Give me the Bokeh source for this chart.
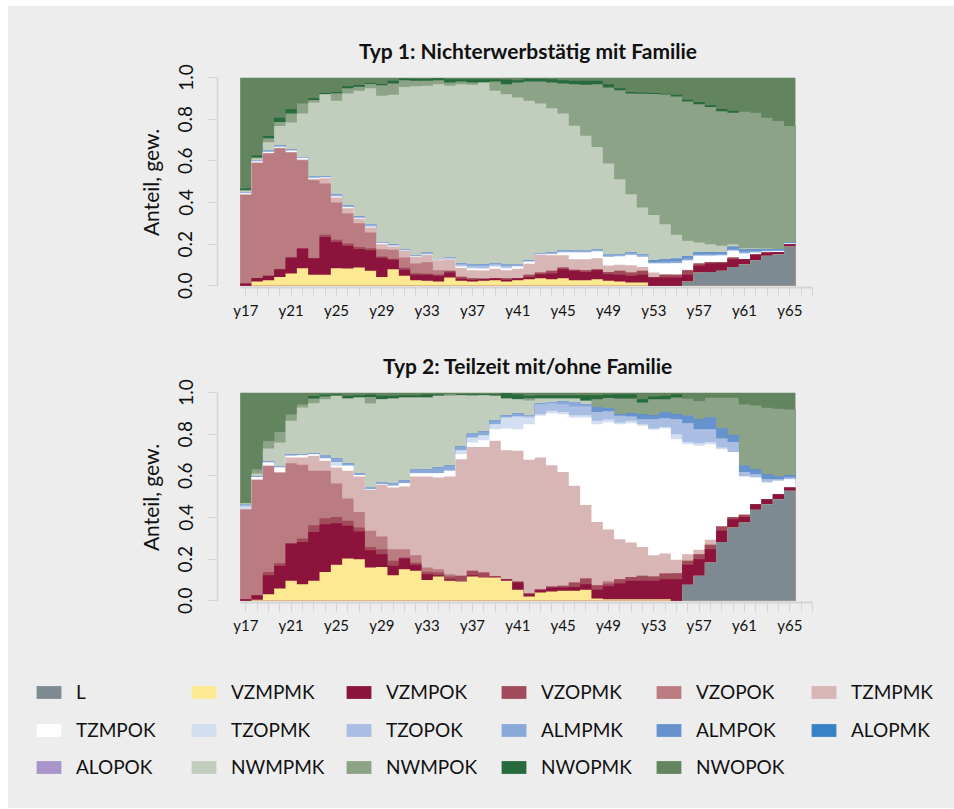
import numpy as np
from bokeh.plotting import figure
from bokeh.layouts import column
from bokeh.models import Range1d, FixedTicker, Legend, LegendItem, PrintfTickFormatter
from bokeh.embed import file_html
from bokeh.resources import INLINE

# ---------------- data ----------------
ages = list(range(17, 66))
states = ["L", "VZMPMK", "VZMPOK", "VZOPMK", "VZOPOK", "TZMPMK", "TZMPOK", "TZOPMK", "TZOPOK",
          "ALMPMK", "ALMPOK", "ALOPMK", "ALOPOK", "NWMPMK", "NWMPOK", "NWOPMK", "NWOPOK"]
colors = ["#7d8a91", "#fee993", "#8b133c", "#a14b5a", "#ba7b81", "#d9b6b6", "#ffffff", "#d3dff1",
          "#aabee4", "#89a9d9", "#6693cd", "#3782c5", "#a995c9", "#c2cebd", "#8ca387", "#276a3d", "#62855f"]
titles = ["Typ 1: Nichterwerbstätig mit Familie", "Typ 2: Teilzeit mit/ohne Familie"]
x_tick_values = [17, 21, 25, 29, 33, 37, 41, 45, 49, 53, 57, 61, 65]
x_tick_labels = ["y17", "y21", "y25", "y29", "y33", "y37", "y41", "y45", "y49", "y53", "y57", "y61", "y65"]
x_minor_ticks = list(range(17, 68))
y_tick_values = [0, 0.2, 0.4, 0.6, 0.8, 1]
y_title = "Anteil, gew."

# Typ 1 shares per state (ages 17..65)
t1_L = [0]*39 + [.021, .064, .067, .072, .091, .104, .123, .144, .152, .189]
t1_VZMPMK = [0, .021, .027, .043, .059, .085, .053, .053, .085, .083, .088, .072, .043, .080, .048, .027,
             .024, .021, .040, .024, .021, .024, .027, .021, .027, .032, .037, .032, .037, .027, .027, .032,
             .024, .021, .016, .016] + [0]*13
t1_VZMPOK = [.011, .017, .021, .037, .077, .094, .080, .182, .126, .110, .089, .099, .092, .045, .029, .026,
             .029, .027, .024, .010, .008, .010, .010, .008, .010, .011, .019, .027, .043, .045, .040, .043,
             .032, .032, .032, .037, .040, .040, .040, .032, .032, .040, .037, .037, .024, .026, .016, .011, .011]
t1_VZOPMK = [0, 0, 0, 0, 0, 0, 0, .010, .010, .010, .010, .010, .006, .005, .010, .008,
             .005, .007, .008, .010, .008, 0, 0, .008, 0, .010, .008, .013, .008, .005, .008, .005,
             .010, .019, .016, .019, .003, .013, .013, .022, .011, .008, .005, .008, 0, .003, 0, 0, 0]
t1_VZOPOK = [.426, .552, .587, .580, .504, .424, .374, .246, .179, .144, .113, .075, .035, .043, .049, .046,
             .055, .020] + [0]*31
t1_TZMPMK = [.003, .003, .003, .003, .003, .004, .006, .025, .024, .026, .022, .024, .024, .016, .032, .032,
             .035, .048, .056, .042, .038, .040, .045, .038, .045, .053, .085, .075, .059, .051, .053, .053,
             .032, .029, .035, .019, .021, .003, .002, .002] + [0]*9
t1_TZMPOK = [.004, .004, .004, .004, .005, .005, .004, .004, .005, .004, .003, .004, .004, .003, .002, .002,
             .003, .002, .002, .006, .008, .008, .010, .008, .011, .010, .003, .005, .013, .032, .032, .032,
             .040, .040, .048, .048, .043, .051, .054, .045, .037, .030, .032, .032, .027, .008, .005, .004, .003]
t1_TZOPMK = [0]*19 + [.004, .004, .004, .004, .004] + [0]*25
t1_TZOPOK = [.004, .003, .004, .004, .004, .004, .004, .003, .005, .004, .004, .006, .003, .003, .003, .002,
             .004, .002, .003, .007, .008, .010, .008, .008, .004, .003, .002, .004, .005, .004, .004, .004,
             .005, .005, .006, .006] + [0]*13
t1_ALMPMK = [.003, 0, .003, .003, .003, .003, .003, .003, .005, .005, .004, .007, .004, .004, .003, .002,
             .004, .002, .002, .006, .006, .006, .004, .006, .004, .003, .003, .004, .006, .004, .004, .004,
             .006, .006, .007, .007, .008, .010, .010, .010, .008, .008, .008, .008, .010, .008, .005, .004, .004]
t1_ALMPOK = [0]*36 + [.008, .009, .011, .011, .008, .010, .008, .012, .010, .008, .005, .003, .004]
t1_ALOPMK = [0]*49
t1_ALOPOK = [0]*49
t1_NWMPMK = [.006, .012, .040, .093, .129, .208, .356, .394, .449, .537, .603, .652, .701, .718, .779, .813,
             .801, .839, .825, .859, .864, .874, .828, .819, .803, .766, .718, .693, .656, .600, .552, .494,
             .438, .360, .280, .224, .217, .170, .115, .073, .048, .037, .030, .012, .005, .005, .004, .003, 0]
t1_NWMPOK = [.003, .004, .020, .020, .043, .050, .012, 0, .037, .025, .020, .020, .051, .054, .032, .026,
             .024, .019, .016, .013, .011, 0, .045, .048, .072, .093, .106, .123, .144, .200, .245, .301,
             .365, .427, .483, .546, .581, .622, .664, .669, .664, .659, .646, .631, .657, .651, .629, .615, .557]
t1_NWOPMK = [.007, .010, .010, .020, .021, 0, .008, .006, .005, .010, .008, .005, .006, .013, .008, .010,
             .010, .009, .016, .011, .016, .016, .011, .022, .011, .013, .013, .016, .016, .016, .019, .016,
             .016, .010, .008, .006, .005, .004, .008, .008, .011, .008, .011, .010, 0, 0, 0, 0, 0]
t1_NWOPOK = [.533, .374, .281, .193, .152, .123, .100, .074, .070, .042, .036, .026, .031, .016, .005, .006,
             .006, .004, .008, .008, .008, .008, .008, .010, .013, .006, .006, .008, .013, .016, .016, .016,
             .032, .051, .069, .072, .074, .078, .083, .107, .117, .133, .151, .159, .163, .168, .192, .208, .232]

# Typ 2 shares per state (ages 17..65)
t2_L = [0]*39 + [.077, .120, .184, .283, .352, .376, .437, .464, .488, .528]
t2_VZMPMK = [0, .005, .032, .059, .096, .080, .096, .139, .173, .203, .200, .160, .163, .123, .152, .144,
             .100, .117, .096, .093, .117, .112, .112, .096, .053, .021, .040, .045, .048, .048, .053, .011,
             .008, .008, .008, .008, .008, .008] + [0]*11
t2_VZMPOK = [.008, .022, .091, .109, .179, .203, .235, .229, .200, .157, .133, .083, .061, .045, .051, .029,
             .028, .006, .008, 0, .006, 0, .005, .008, .035, .011, .011, .019, .016, .019, .027, .042,
             .062, .075, .088, .088, .088, .096, .104, .096, .080, .064, .053, .040, .027, .027, .024, .024, .016]
t2_VZOPMK = [0, 0, .016, .013, 0, .016, .032, .029, .030, .024, .019, .016, .024, .024, .005, .010,
             .012, .013, .013, .027, .021, .024, 0, 0, .005, .005, .005, .005, .008, .021, .027, .022,
             .013, .021, .019, .024, .021, .027, .029, .019, .024, .021, .021, .011, .010, 0, 0, 0, 0]
t2_VZOPOK = [.430, .554, .509, .435, .386, .354, .261, .227, .160, .107, .075, .077, .061, .056, .040, .036,
             .020, .016, .011] + [0]*13 + [.011] + [0]*16
t2_TZMPMK = [.003, 0, 0, 0, .027, .035, .072, .048, .077, .133, .170, .197, .248, .296, .301, .378,
             .437, .440, .469, .560, .595, .603, .651, .619, .627, .640, .632, .582, .547, .464, .353, .304,
             .248, .192, .165, .139, .102, .096, .064, .032, .021, .024] + [0]*7
t2_TZMPOK = [0, .013, .016, .024, .008, .011, .008, .011, .008, .024, .007, .003, .003, .008, .016, .016,
             .016, .021, .027, .024, .021, .032, .056, .104, .104, .171, .200, .250, .277, .328, .420, .469,
             .515, .552, .573, .581, .602, .602, .579, .528, .499, .459, .371, .312, .184, .128, .080, .064, .040]
t2_TZOPMK = [.012] + [0]*7 + [.019] + [0]*10 + [.019, .024, .024, .024, .053, .061, .032, .008, .011, .011,
             .011, .011, .016, .013, .008, .011, .008, .006, .006, .024, .011, .013, .011, .008] + [0]*6
t2_TZOPOK = [.008] + [0]*24 + [.008, .048, .037, .037, .042, .042, .043, .040, .032, .021, .024, .045,
             .042, .072, .090, .067, .061, .043, .048, .022, .016, .016, .008, .008]
t2_ALMPMK = [0, .003, .006, .004, .008, .005, .004, .013, .016, .013, .009, .011, .011, .013, .013, .016,
             .019, .027, .027, .018, .018, .018, .019, .011, .016, 0, .005, .006, .014, .022, .011] + [0]*18
t2_ALMPOK = [0]*31 + [.021, .016, .008, .016, .024, .019, .027, .024, .035, .048, .056, .048, .032, .029,
             .024, .024, .013, .011]
t2_ALOPMK = [0]*49
t2_ALOPOK = [0]*49
t2_NWMPMK = [.008, .014, .061, .116, .160, .224, .241, .272, .301, .310, .363, .400, .397, .406, .398, .347,
             .344, .344, .333, .246, .184, .174, .118, .080, .067, .074, .022, .016, .013, .016, .016] + [0]*18
t2_NWMPOK = [0, .021, .037, .051, .032, .016, .022, .013, 0, 0, 0, .032, 0, 0, 0, 0,
             0, 0, .008, 0, 0, 0, 0, 0, 0, .011, 0, 0, 0, 0, 0, .040,
             .048, .075, .070, .056, .077, .064, .080, .083, .088, .096, .149, .181, .296, .307, .320, .326, .317]
t2_NWOPMK = [0, 0, 0, 0, 0, 0, .012, .008, .008, .013, .011, .011, .016, .013, .011, .011,
             .016, .008, 0, .005, .006, .005, .007, .026, .024, .011, .016, .016, .016, .016, .027, .019,
             .016, .021, .021, .016, .013, .016, .016] + [0]*10
t2_NWOPOK = [.531, .368, .232, .189, .104, .056, .017, .011, .008, .016, .013, .010, .016, .016, .013, .013,
             .008, .008, .008, .008, .008, .008, .008, .003, .008, .016, .013, .013, .013, .013, .013, .013,
             .010, .008, .008, .032, .019, .016, .008, .029, .040, .024, .024, .024, .056, .061, .072, .077, .080]

typ1 = [t1_L, t1_VZMPMK, t1_VZMPOK, t1_VZOPMK, t1_VZOPOK, t1_TZMPMK, t1_TZMPOK, t1_TZOPMK, t1_TZOPOK,
        t1_ALMPMK, t1_ALMPOK, t1_ALOPMK, t1_ALOPOK, t1_NWMPMK, t1_NWMPOK, t1_NWOPMK, t1_NWOPOK]
typ2 = [t2_L, t2_VZMPMK, t2_VZMPOK, t2_VZOPMK, t2_VZOPOK, t2_TZMPMK, t2_TZMPOK, t2_TZOPMK, t2_TZOPOK,
        t2_ALMPMK, t2_ALMPOK, t2_ALOPMK, t2_ALOPOK, t2_NWMPMK, t2_NWMPOK, t2_NWOPMK, t2_NWOPOK]

# ---------------- styling ----------------
BG = "#ededed"
AX = "#d4d4d4"
FONT = "Lato"
TXT = "#111111"
FIG_W = 946


def make_panel(shares, title, height, top_border):
    p = figure(width=FIG_W, height=height, output_backend="svg", toolbar_location=None,
               x_range=Range1d(14.5, 69.3), y_range=Range1d(-0.008, 1.0),
               min_border_left=209, min_border_right=116, min_border_top=top_border,
               min_border_bottom=43, title=title)
    p.background_fill_color = BG
    p.border_fill_color = BG
    p.outline_line_color = None
    p.xgrid.visible = False
    p.ygrid.visible = False
    p.title.align = "center"
    p.title.text_font = FONT
    p.title.text_font_size = "21px"
    p.title.text_font_style = "bold"
    p.title.text_color = TXT
    p.title.standoff = 30

    # stacked step areas: each state filled from 0 up to its cumulative top,
    # drawn from the top state downwards (no seams between bands)
    cum = np.cumsum(np.array(shares, dtype=float), axis=0)
    a = np.array(ages, dtype=float)
    edges = np.concatenate([a - 0.5, [a[-1] + 0.5]])
    xs_top = np.repeat(edges, 2)[1:-1]
    for k in range(len(states) - 1, -1, -1):
        ys_top = np.repeat(cum[k], 2)
        xs = np.concatenate([xs_top, [edges[-1], edges[0]]])
        ys = np.concatenate([ys_top, [0.0, 0.0]])
        p.patch(x=xs, y=ys, fill_color=colors[k], line_color=None)

    xa = p.xaxis[0]
    xa.ticker = FixedTicker(ticks=x_tick_values, minor_ticks=x_minor_ticks)
    xa.major_label_overrides = dict(zip(x_tick_values, x_tick_labels))
    xa.bounds = (16.5, 67)
    xa.axis_line_color = AX
    xa.axis_line_width = 2
    xa.major_tick_line_color = AX
    xa.minor_tick_line_color = AX
    xa.major_tick_in = 0
    xa.major_tick_out = 9
    xa.minor_tick_in = 0
    xa.minor_tick_out = 9
    xa.major_label_standoff = 4
    xa.major_label_text_font = FONT
    xa.major_label_text_font_size = "15px"
    xa.major_label_text_color = TXT

    ya = p.yaxis[0]
    ya.ticker = FixedTicker(ticks=y_tick_values, minor_ticks=[])
    ya.formatter = PrintfTickFormatter(format="%.1f")
    ya.bounds = (0, 1)
    ya.axis_line_color = AX
    ya.axis_line_width = 1.5
    ya.major_tick_line_color = AX
    ya.major_tick_in = 0
    ya.major_tick_out = 10
    ya.minor_tick_line_color = None
    ya.major_label_orientation = "vertical"
    ya.major_label_standoff = 15
    ya.major_label_text_font = FONT
    ya.major_label_text_font_size = "19px"
    ya.major_label_text_color = TXT
    ya.axis_label = y_title
    ya.axis_label_text_font = FONT
    ya.axis_label_text_font_size = "21px"
    ya.axis_label_text_font_style = "normal"
    ya.axis_label_text_color = TXT
    ya.axis_label_standoff = 13
    return p


p1 = make_panel(typ1, titles[0], 324, 71)
p2 = make_panel(typ2, titles[1], 315, 62)

# ---------------- legend panel ----------------
pl = figure(width=FIG_W, height=163, output_backend="svg", toolbar_location=None,
            x_range=Range1d(0, 1), y_range=Range1d(0, 1), x_axis_type=None, y_axis_type=None,
            min_border=0, min_border_left=0, min_border_right=0, min_border_top=0, min_border_bottom=0)
pl.background_fill_color = BG
pl.border_fill_color = BG
pl.outline_line_color = None
for fig in (pl,):
    try:
        fig.frame_align = False
    except Exception:
        pass

dummy = []
for c in colors:
    dummy.append(pl.rect(x=[-10], y=[-10], width=1, height=1, fill_color=c, line_color=None))

rows = [(0, 6, 105), (6, 12, 67), (12, 17, 30)]
for a0, b0, vy in rows:
    items = [LegendItem(label=states[i], renderers=[dummy[i]]) for i in range(a0, b0)]
    leg = Legend(items=items, orientation="horizontal", location=(25, vy),
                 glyph_width=31, glyph_height=16, label_height=16, label_standoff=12, label_width=112,
                 spacing=0, padding=0, margin=0, border_line_color=None,
                 background_fill_alpha=0, label_text_font=FONT, label_text_font_size="19px",
                 label_text_color=TXT)
    pl.add_layout(leg)

layout = column(p1, p2, pl, spacing=0, margin=(6, 0, 0, 8), styles={"background-color": BG})
open("out.html", "w").write(file_html(layout, INLINE))
